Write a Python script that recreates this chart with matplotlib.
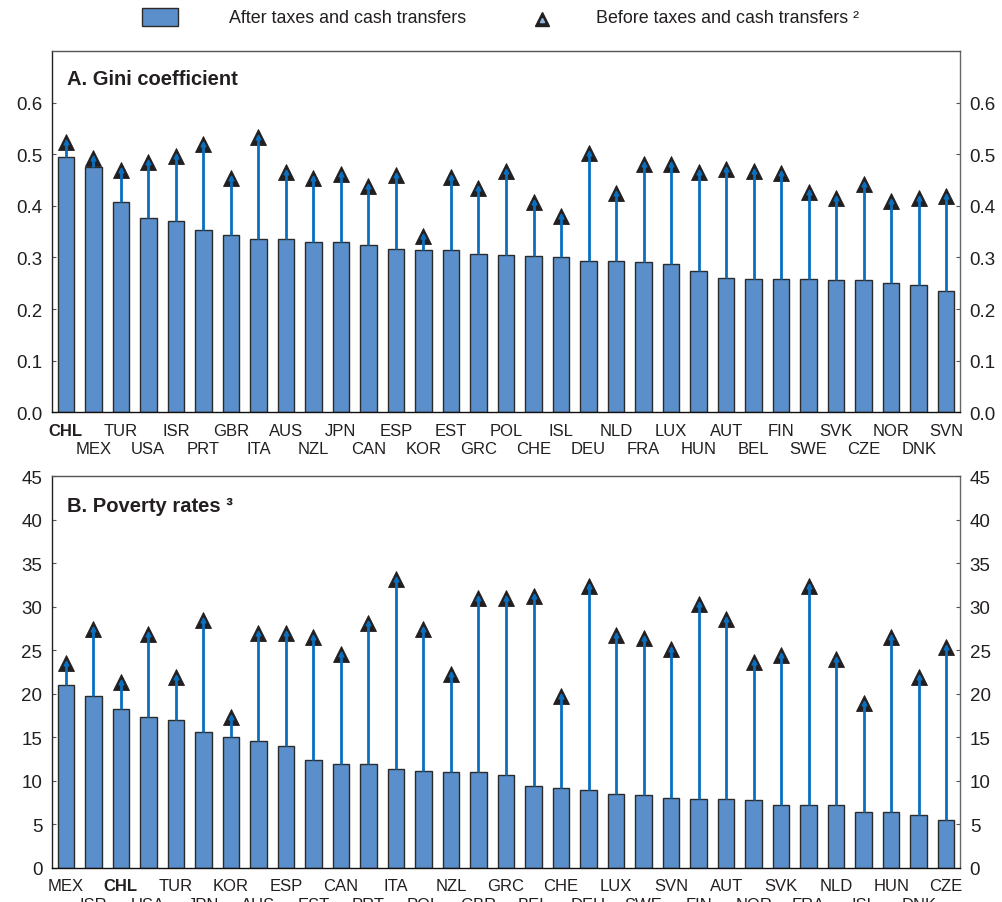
import matplotlib
matplotlib.use("Agg")
import matplotlib.pyplot as plt
from matplotlib.patches import Rectangle
from matplotlib.lines import Line2D
import numpy as np

plt.rcParams['font.family'] = ['Liberation Sans', 'DejaVu Sans']

# Panel A: Gini coefficient
gini_countries = ["CHL", "MEX", "TUR", "USA", "ISR", "PRT", "GBR", "ITA", "AUS", "NZL", "JPN",
                  "CAN", "ESP", "KOR", "EST", "GRC", "POL", "CHE", "ISL", "DEU", "NLD", "FRA",
                  "LUX", "HUN", "AUT", "BEL", "FIN", "SWE", "SVK", "CZE", "NOR", "DNK", "SVN"]
gini_after = [0.494, 0.476, 0.408, 0.377, 0.370, 0.353, 0.344, 0.336, 0.335, 0.329, 0.329,
              0.324, 0.317, 0.314, 0.314, 0.307, 0.304, 0.303, 0.300, 0.294, 0.293, 0.292,
              0.287, 0.273, 0.260, 0.259, 0.259, 0.259, 0.257, 0.257, 0.250, 0.247, 0.235]
gini_before = [0.524, 0.492, 0.469, 0.484, 0.497, 0.519, 0.454, 0.533, 0.466, 0.453, 0.461,
               0.439, 0.460, 0.342, 0.455, 0.435, 0.468, 0.408, 0.380, 0.502, 0.425, 0.482,
               0.481, 0.465, 0.471, 0.468, 0.464, 0.426, 0.415, 0.443, 0.410, 0.415, 0.420]

# Panel B: Poverty rates
pov_countries = ["MEX", "ISR", "CHL", "USA", "TUR", "JPN", "KOR", "AUS", "ESP", "EST", "CAN",
                 "PRT", "ITA", "POL", "NZL", "GBR", "GRC", "BEL", "CHE", "DEU", "LUX", "SWE",
                 "SVN", "FIN", "AUT", "NOR", "SVK", "FRA", "NLD", "ISL", "HUN", "DNK", "CZE"]
pov_after = [21.0, 19.8, 18.3, 17.3, 17.0, 15.6, 15.0, 14.6, 14.0, 12.4, 12.0,
             11.95, 11.4, 11.15, 11.0, 11.0, 10.7, 9.4, 9.2, 8.95, 8.5, 8.35,
             8.0, 7.9, 7.9, 7.8, 7.2, 7.2, 7.2, 6.4, 6.4, 6.1, 5.5]
pov_before = [23.5, 27.5, 21.4, 26.85, 21.9, 28.5, 17.4, 27.0, 27.0, 26.5, 24.6,
              28.2, 33.2, 27.5, 22.25, 31.0, 31.0, 31.3, 19.8, 32.4, 26.8, 26.4,
              25.2, 30.3, 28.6, 23.7, 24.5, 32.4, 24.0, 18.9, 26.5, 21.9, 25.4]

gini_ticks = [0.0, 0.1, 0.2, 0.3, 0.4, 0.5, 0.6]
pov_ticks = [0, 5, 10, 15, 20, 25, 30, 35, 40, 45]

BAR_COLOR = "#5b8fcb"
BAR_EDGE = "#2b2b2b"
ARROW_COLOR = "#0a6fbe"
TRI_COLOR = "#231f20"
TEXT_COLOR = "#231f20"
HIGHLIGHT = "CHL"

W, H = 1002, 903
fig = plt.figure(figsize=(W / 100, H / 100), dpi=100)


def px_axes(left, top, right, bottom):
    return fig.add_axes([left / W, 1 - bottom / H, (right - left) / W, (bottom - top) / H])


def draw_panel(ax, countries, after, before, ticks, ymax, fmt, title):
    x = np.arange(len(countries))
    ax.bar(x, after, width=0.6, color=BAR_COLOR, edgecolor=BAR_EDGE, linewidth=1.0, zorder=2)
    ax.plot(x, before, linestyle="none", marker="^", markersize=11.5,
            markerfacecolor=TRI_COLOR, markeredgecolor=TRI_COLOR, markeredgewidth=0.6, zorder=3)
    ax.vlines(x, after, before, color=ARROW_COLOR, linewidth=2.0, zorder=4)
    ax.plot(x, before, linestyle="none", marker="^", markersize=3.5,
            markerfacecolor=ARROW_COLOR, markeredgecolor=ARROW_COLOR, zorder=5)

    ax.set_xlim(-0.5, len(countries) - 0.5)
    ax.set_ylim(0, ymax)
    ax.set_yticks(ticks)
    ax.set_yticklabels([fmt.format(t) for t in ticks])
    ax.tick_params(axis="y", which="both", direction="in", length=3, width=0.8,
                   left=True, right=True, labelleft=True, labelright=True,
                   labelsize=13.5, labelcolor=TEXT_COLOR, pad=7, color="#555555")

    # Country codes alternate between two rows below the axis
    upper = x[0::2]
    lower = x[1::2]
    ax.set_xticks(upper)
    ax.set_xticklabels([countries[i] for i in upper])
    ax.set_xticks(lower, minor=True)
    ax.set_xticklabels([countries[i] for i in lower], minor=True)
    ax.tick_params(axis="x", which="major", direction="in", length=3, width=0.8,
                   labelsize=12, labelcolor=TEXT_COLOR, pad=7.5, color="#333333")
    ax.tick_params(axis="x", which="minor", direction="in", length=3, width=0.8,
                   labelsize=12, labelcolor=TEXT_COLOR, pad=21, color="#333333")
    for lab in ax.get_xticklabels(minor=False) + ax.get_xticklabels(minor=True):
        if lab.get_text() == HIGHLIGHT:
            lab.set_fontweight("bold")

    ax.spines["left"].set_color("#222222")
    ax.spines["bottom"].set_color("#111111")
    ax.spines["top"].set_color("#555555")
    ax.spines["right"].set_color("#666666")
    for s in ax.spines.values():
        s.set_linewidth(1.0)

    ax.text(0.0165, 0.925, title, transform=ax.transAxes, fontsize=14.5, fontweight="bold",
            color=TEXT_COLOR, ha="left", va="center")


ax1 = px_axes(52, 52, 960, 413.3)
draw_panel(ax1, gini_countries, gini_after, gini_before, gini_ticks, 0.7, "{:.1f}",
           "A. Gini coefficient")

ax2 = px_axes(52, 477.3, 960, 869)
draw_panel(ax2, pov_countries, pov_after, pov_before, pov_ticks, 45, "{:.0f}",
           "B. Poverty rates \u00b3")

# Legend above the panels
fig.add_artist(Rectangle((141.7 / W, 1 - 27.3 / H), 36 / W, 18 / H, transform=fig.transFigure,
                         facecolor=BAR_COLOR, edgecolor=BAR_EDGE, linewidth=1.0))
fig.text(229 / W, 1 - 18.5 / H, "After taxes and cash transfers", fontsize=12.9,
         color=TEXT_COLOR, ha="left", va="center")
fig.add_artist(Line2D([541.7 / W], [1 - 20 / H], transform=fig.transFigure, linestyle="none",
                      marker="^", markersize=10, markerfacecolor=TRI_COLOR,
                      markeredgecolor=TRI_COLOR))
fig.add_artist(Line2D([541.7 / W], [1 - 20.5 / H], transform=fig.transFigure, linestyle="none",
                      marker="^", markersize=3, markerfacecolor="#8fb3dc",
                      markeredgecolor="#8fb3dc"))
fig.text(596 / W, 1 - 18.5 / H, "Before taxes and cash transfers \u00b2", fontsize=12.9,
         color=TEXT_COLOR, ha="left", va="center")

fig.savefig("out.png", dpi=100)
